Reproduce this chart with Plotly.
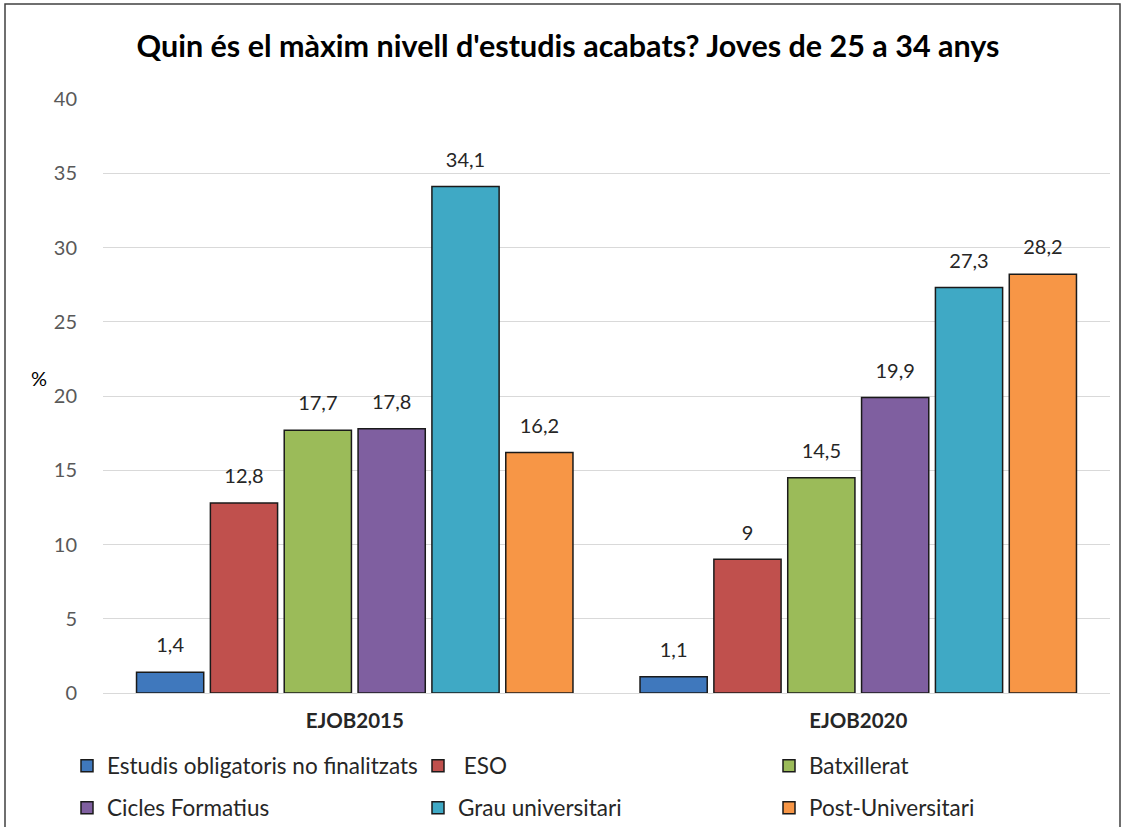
import plotly.graph_objects as go

categories = ["EJOB2015", "EJOB2020"]
series_names = ["Estudis obligatoris no finalitzats", " ESO", "Batxillerat",
                "Cicles Formatius", "Grau universitari", "Post-Universitari"]
values = [
    [1.4, 1.1],
    [12.8, 9],
    [17.7, 14.5],
    [17.8, 19.9],
    [34.1, 27.3],
    [16.2, 28.2],
]
colors = ["#3f78bd", "#c0504d", "#9bbb59", "#7f5fa0", "#3fa9c5", "#f79646"]
yticks = [0, 5, 10, 15, 20, 25, 30, 35, 40]

FONT = "Lato"

def fmt(v):
    return ("%g" % v).replace(".", ",")

fig = go.Figure()
for i, (name, vals, col) in enumerate(zip(series_names, values, colors)):
    fig.add_trace(go.Bar(
        x=categories, y=vals, name=name, offsetgroup=str(i),
        marker=dict(color=col, line=dict(color="#1a1a1a", width=1.5)),
        legend="legend" if i < 3 else "legend2",
    ))
# value labels: text-only scatter traces grouped like the bars
for i, (name, vals) in enumerate(zip(series_names, values)):
    fig.add_trace(go.Scatter(
        x=categories, y=vals, name=name, offsetgroup=str(i),
        mode="markers+text", text=[fmt(v) for v in vals], textposition="top center",
        marker=dict(size=22, opacity=0, color="rgba(0,0,0,0)"),
        textfont=dict(family=FONT, size=20, color="#262626"),
        cliponaxis=False, showlegend=False, hoverinfo="skip",
    ))

W, H = 1124, 827
ml, mr, mt, mb = 103, 14, 99, 134
pw, ph = W - ml - mr, H - mt - mb

def px_x(p):
    return (p - ml) / pw

def px_y(p):
    return (H - mb - p) / ph

legend_common = dict(
    orientation="h", xanchor="left", yanchor="middle",
    font=dict(family=FONT, size=22.5, color="#262626"),
    entrywidth=306, entrywidthmode="pixels", bgcolor="rgba(0,0,0,0)",
    itemwidth=30,
)

fig.update_layout(
    width=W, height=H,
    margin=dict(l=ml, r=mr, t=mt, b=mb, autoexpand=False),
    paper_bgcolor="white", plot_bgcolor="white",
    barmode="group", bargap=0.12, bargroupgap=0.09,
    scattermode="group", scattergap=0.12,
    title=dict(text="<b>Quin és el màxim nivell d'estudis acabats? Joves de 25 a 34 anys</b>",
               x=px_x(568), xref="paper", xanchor="center", y=1 - 46 / H, yanchor="middle",
               font=dict(family=FONT, size=30.5, color="#000000")),
    xaxis=dict(showgrid=False, showline=False, ticks="",
               tickfont=dict(family=FONT, size=20.5, color="#262626"),
               ticklabelstandoff=13,
               tickvals=categories, ticktext=["<b>%s</b>" % c for c in categories]),
    yaxis=dict(range=[0, 40], tickvals=yticks, showgrid=True, gridcolor="#d9d9d9",
               gridwidth=1, zeroline=True, zerolinecolor="#d9d9d9", zerolinewidth=1,
               tickfont=dict(family=FONT, size=20, color="#595959"),
               ticks="", ticklabelstandoff=25),
    legend=dict(x=px_x(67), y=px_y(766), **legend_common),
    legend2=dict(x=px_x(67), y=px_y(808), **legend_common),
    annotations=[dict(text="%", xref="paper", yref="paper", x=px_x(39), y=px_y(378),
                      xanchor="center", yanchor="middle",
                      showarrow=False, font=dict(family=FONT, size=20, color="#000000"))],
    shapes=[dict(type="rect", xref="paper", yref="paper",
                 x0=px_x(5), x1=px_x(1120), y0=px_y(840), y1=px_y(4),
                 line=dict(color="#404040", width=1.5), fillcolor="rgba(0,0,0,0)",
                 layer="below")],
)

fig.write_html("out.html", config={"displayModeBar": False},
               post_script="document.body.style.margin='0';")
